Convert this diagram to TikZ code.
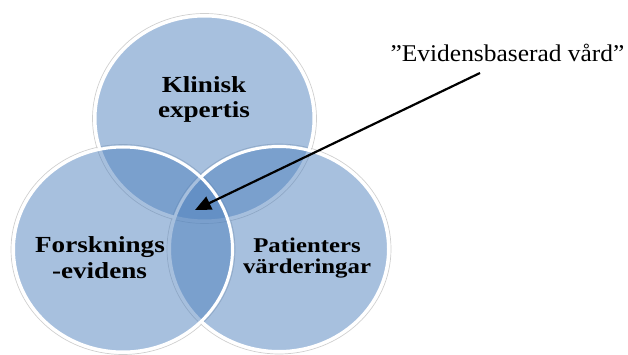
\documentclass[tikz,border=0pt]{standalone}
\usepackage{fontspec}
\newfontfamily\calloutfont{Liberation Serif}[FakeStretch=1.06]
\newfontfamily\labelfont{Liberation Serif}[FakeStretch=1.18]
\usetikzlibrary{shapes.geometric,arrows.meta}
\definecolor{acc}{HTML}{4F81BD}
\definecolor{glowc}{HTML}{D0D0D0}
\begin{document}
\begin{tikzpicture}[x=1pt,y=-1pt,
  vennglow/.style={ellipse, draw=glowc, line width=0.7pt, inner sep=0pt, minimum width=224, minimum height=210},
  venn/.style={ellipse, fill=acc, fill opacity=0.5, draw=white, draw opacity=1, line width=3pt, inner sep=0pt, minimum width=219, minimum height=205},
  lab/.style={font=\labelfont\fontsize{23}{26}\selectfont\bfseries, anchor=base, inner sep=0pt},
  labs/.style={font=\labelfont\fontsize{21}{24}\selectfont\bfseries, anchor=base, inner sep=0pt},
  arr/.style={line width=2.2pt, -{Triangle[length=16pt, width=14pt]}}
  ]
\useasboundingbox (0,0) rectangle (628,355);
\node[vennglow] (g1) at (204.5,118.5) {};
\node[vennglow] (g2) at (279,249) {};
\node[vennglow] (g3) at (123,249.5) {};
\node[venn] (top) at (204.5,118.5) {};
\node[venn] (right) at (279,249) {};
\node[venn] (left) at (123,249.5) {};
\node[lab] (k1) at (204,93) {Klinisk};
\node[lab] (k2) at (204,118) {expertis};
\node[lab] (f1) at (100,252) {Forsknings};
\node[lab] (f2) at (99.5,278) {-evidens};
\node[labs] (p1) at (307,252) {Patienters};
\node[labs] (p2) at (307,273) {värderingar};
\node[font=\calloutfont\fontsize{24}{27}\selectfont, anchor=base, inner sep=0pt] (ev) at (507.5,62) {”Evidensbaserad vård”};
\coordinate (from) at (480,73);
\coordinate (tip) at (195,210);
\draw[arr] (from) -- (tip);
\end{tikzpicture}
\end{document}
